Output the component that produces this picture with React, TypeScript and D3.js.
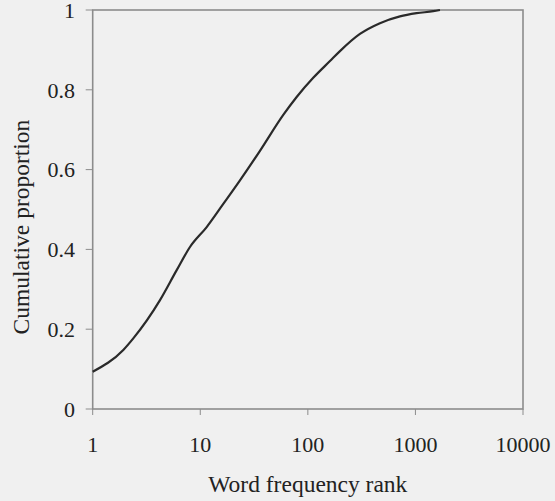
import React from "react";
import * as d3 from "d3";

const W = 555;
const H = 501;

const ranks = [1, 1.925, 2.384, 4.223, 6.036, 8.02, 11.47, 16.36, 23.39, 35.88, 59.07, 78.7, 112.2, 160.5, 198.8, 305, 468, 718, 1026, 1464, 1690];
const cumulative = [0.0935, 0.148, 0.177, 0.273, 0.348, 0.406, 0.456, 0.514, 0.573, 0.647, 0.737, 0.782, 0.83, 0.872, 0.897, 0.94, 0.967, 0.984, 0.992, 0.997, 1.0];

const xTicks = [1, 10, 100, 1000, 10000];
const xTickLabels = ["1", "10", "100", "1000", "10000"];
const yTicks = [0, 0.2, 0.4, 0.6, 0.8, 1];
const yTickLabels = ["0", "0.2", "0.4", "0.6", "0.8", "1"];

export default function App() {
  const left = 92.7, right = 523, top = 10, bottom = 409;
  const x = d3.scaleLog().domain([1, 10000]).range([left, right]);
  const y = d3.scaleLinear().domain([0, 1]).range([bottom, top]);
  const pts: [number, number][] = ranks.map((r, i) => [r, cumulative[i]]);
  const line = d3
    .line<[number, number]>()
    .x((d) => x(d[0]))
    .y((d) => y(d[1]))
    .curve(d3.curveMonotoneX);
  const font = "'Liberation Serif', 'Times New Roman', serif";
  const frame = "#8c8c8c";
  return (
    <div style={{ position: "fixed", left: 0, top: 0, width: W, height: H, background: "#f0f0f0" }}>
      <svg width={W} height={H} style={{ display: "block" }} fontFamily={font}>
        <rect x={0} y={0} width={W} height={H} fill="#f0f0f0" />
        <rect x={left} y={top} width={right - left} height={bottom - top} fill="none" stroke={frame} strokeWidth={1.6} />
        {yTicks.map((t, i) => (
          <g key={"y" + i}>
            <line x1={left - 7} x2={left} y1={y(t)} y2={y(t)} stroke={frame} strokeWidth={1} />
            <text x={75} y={y(t)} dy="0.35em" textAnchor="end" fontSize={22} fill="#222">
              {yTickLabels[i]}
            </text>
          </g>
        ))}
        {xTicks.map((t, i) => (
          <g key={"x" + i}>
            <line x1={x(t)} x2={x(t)} y1={bottom} y2={bottom + 6} stroke={frame} strokeWidth={1} />
            <text x={x(t)} y={452} textAnchor="middle" fontSize={22} fill="#222">
              {xTickLabels[i]}
            </text>
          </g>
        ))}
        <path d={line(pts) || ""} fill="none" stroke="#2a2a2a" strokeWidth={2.2} />
        <text x={(left + right) / 2} y={492} textAnchor="middle" fontSize={23.5} fill="#222">
          Word frequency rank
        </text>
        <text
          transform={`translate(29, 227) rotate(-90)`}
          textAnchor="middle"
          fontSize={23.5}
          fill="#222"
        >
          Cumulative proportion
        </text>
      </svg>
    </div>
  );
}
